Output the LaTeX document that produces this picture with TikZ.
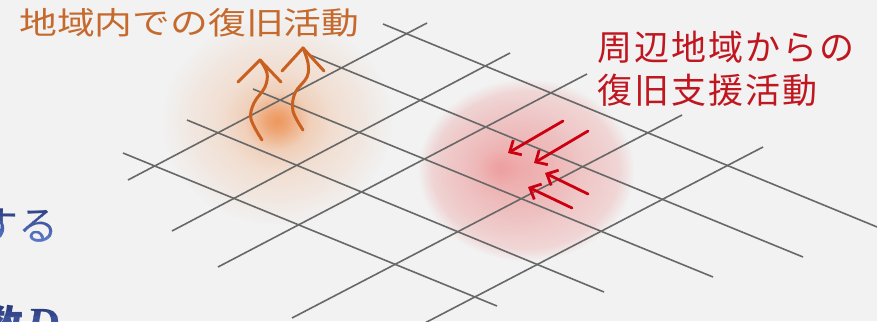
\documentclass[tikz,border=0pt]{standalone}
\usepackage{fontspec}
\setmainfont{Liberation Serif}
\newfontfamily\jporange{Noto Sans CJK JP}
\newfontfamily\jpred[LetterSpace=6]{Noto Sans CJK JP}
\newfontfamily\jpblue{Noto Sans CJK JP}
\usetikzlibrary{fadings,arrows.meta}

\definecolor{bg}{RGB}{242,242,242}
\definecolor{gridgray}{RGB}{104,104,104}
\definecolor{orangetxt}{RGB}{198,105,45}
\definecolor{orangearrow}{RGB}{202,96,32}
\definecolor{orangeglow}{RGB}{238,146,84}
\definecolor{redtxt}{RGB}{192,22,32}
\definecolor{redarrow}{RGB}{204,0,16}
\definecolor{redglow}{RGB}{236,118,118}
\definecolor{navytop}{RGB}{30,45,105}
\definecolor{bluebot}{RGB}{95,125,210}

% soft radial falloff (white = opaque, black = transparent); 25bp = rim
\pgfdeclareradialshading{softglowshade}{\pgfpointorigin}{%
  color(0bp)=(white); color(2.5bp)=(white!82!black);
  color(7bp)=(white!38!black); color(12bp)=(white!22!black);
  color(19bp)=(white!11!black); color(25bp)=(black); color(50bp)=(black)}
\pgfdeclarefading{softglow}{\pgfuseshading{softglowshade}}
% flatter disc with a fuzzy rim
\pgfdeclareradialshading{discglowshade}{\pgfpointorigin}{%
  color(0bp)=(white!66!black); color(10bp)=(white!52!black);
  color(17bp)=(white!40!black); color(21.5bp)=(white!30!black);
  color(25bp)=(black); color(50bp)=(black)}
\pgfdeclarefading{discglow}{\pgfuseshading{discglowshade}}

\tikzset{
  gridline/.style={draw=gridgray, line width=1.6pt},
  uparrow/.style={draw=orangearrow, line width=3pt, line cap=round, line join=round},
  inarrow/.style={draw=redarrow, line width=2.8pt, line cap=round,
    -{Straight Barb[length=9pt,width=17pt,line width=2.8pt]}},
  label/.style={inner sep=0pt, anchor=west},
}

\begin{document}
\begin{tikzpicture}[x=1pt,y=-1pt]
\useasboundingbox (0,0) rectangle (877,321);
\fill[bg] (0,0) rectangle (877,321);
\clip (0,0) rectangle (877,321);

% glows
\fill[orangeglow, fill opacity=0.95, path fading=softglow] (277,121) ellipse (115 and 104);
\fill[redglow, fill opacity=0.75, path fading=discglow] (526,170) ellipse (108 and 91);
\fill[redglow, fill opacity=0.4, path fading=softglow] (500,168) ellipse (80 and 70);

% grid: lines running down to the right
\coordinate (d1a) at (383,24);  \coordinate (d1b) at (882,229);
\coordinate (d2a) at (310,55);  \coordinate (d2b) at (803,257);
\coordinate (d3a) at (253,89);  \coordinate (d3b) at (713,277);
\coordinate (d4a) at (187,120); \coordinate (d4b) at (604,292);
\coordinate (d5a) at (123,153); \coordinate (d5b) at (497,306);
% grid: lines running up to the right
\coordinate (u1a) at (128,180); \coordinate (u1b) at (427,23);
\coordinate (u2a) at (172,231); \coordinate (u2b) at (510,53);
\coordinate (u3a) at (218,267); \coordinate (u3b) at (587,74);
\coordinate (u4a) at (292,318); \coordinate (u4b) at (682,115);
\coordinate (u5a) at (421,325); \coordinate (u5b) at (763,147);
\foreach \k in {1,...,5} {
  \draw[gridline] (d\k a) -- (d\k b);
  \draw[gridline] (u\k a) -- (u\k b);
}

% local recovery: two wavy arrows rising
\draw[uparrow] plot[smooth, tension=0.6] coordinates
  {(262,140) (251,119) (254,103) (265,87) (267,73) (260,60)};
\draw[uparrow] (238,82) -- (260,60) -- (281,82);
\draw[uparrow] plot[smooth, tension=0.6] coordinates
  {(303,130) (293,111) (295,93) (307,77) (308,63) (303,48)};
\draw[uparrow] (282,71) -- (303,48) -- (324,71);

% support from surrounding areas: arrows coming in
\coordinate (r1t) at (563,121); \coordinate (r1h) at (508,153);
\coordinate (r2t) at (588,131); \coordinate (r2h) at (534,163);
\coordinate (r3t) at (588,194); \coordinate (r3h) at (545,173);
\coordinate (r4t) at (572,208); \coordinate (r4h) at (528,187);
\foreach \k in {1,...,4} \draw[inarrow] (r\k t) -- (r\k h);

% labels
\node[label, text=orangetxt, xscale=1.22, font=\jporange\fontsize{31}{31}\selectfont]
  (lblLocal) at (19,23) {地域内での復旧活動};
\node[label, text=redtxt, font=\jpred\fontsize{35}{35}\selectfont]
  (lblOuter1) at (597,47) {周辺地域からの};
\node[label, text=redtxt, font=\jpred\fontsize{35}{35}\selectfont]
  (lblOuter2) at (597,90) {復旧支援活動};

% partially visible body text at the left edge, shaded top to bottom
\foreach \i in {0,...,9} {
  \pgfmathtruncatemacro\pct{\i*11}
  \begin{scope}
    \clip (-30,{196+\i*5}) rectangle (80,{201+\i*5});
    \node[label, text=bluebot!\pct!navytop, font=\jpblue\fontsize{40}{40}\selectfont]
      (txtSuru\i) at (-22,226) {する};
  \end{scope}
  \begin{scope}
    \clip (-30,{296+\i*5}) rectangle (80,{301+\i*5});
    \node[label, text=bluebot!\pct!navytop, font=\jpblue\bfseries\fontsize{40}{40}\selectfont]
      (txtSuu\i) at (-17,324) {数\hspace{3pt}{\rmfamily\bfseries\itshape\fontsize{46}{46}\selectfont D}};
  \end{scope}
}
\end{tikzpicture}
\end{document}
